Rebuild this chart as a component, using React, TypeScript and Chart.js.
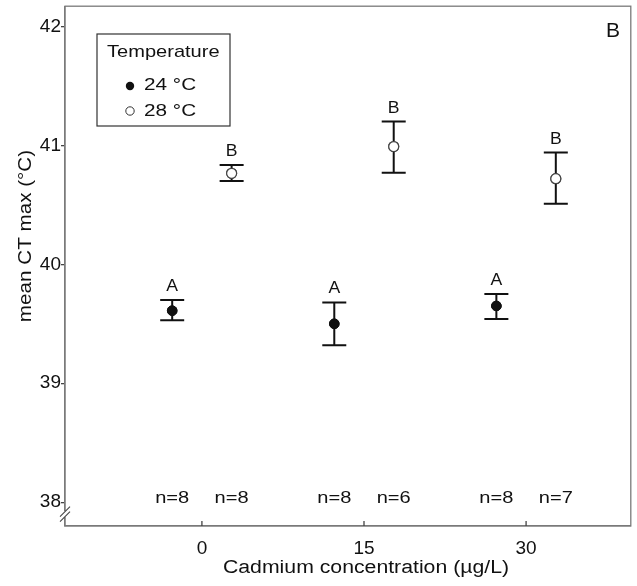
import React, { useEffect, useRef } from "react";
import { Chart, registerables } from "chart.js";

Chart.register(...registerables);

// ---- data ----
const concentrations = [0, 15, 30];
const seriesLabels = ["24 °C", "28 °C"];
const means24 = [39.61, 39.5, 39.65];
const upper24 = [39.7, 39.68, 39.75];
const lower24 = [39.53, 39.32, 39.54];
const means28 = [40.765, 40.99, 40.72];
const upper28 = [40.835, 41.2, 40.94];
const lower28 = [40.7, 40.77, 40.51];
const letters24 = ["A", "A", "A"];
const letters28 = ["B", "B", "B"];
const n24 = [8, 8, 8];
const n28 = [8, 6, 7];
const yTicks = [38, 39, 40, 41, 42];
const xTicks = [0, 15, 30];
const yMin = 37.8;
const yMax = 42.17;
const xMin = -12.67;
const xMax = 39.69;
const nLabelY = 38;
const dodge = 2.75;

const FONT = "'Liberation Sans', Arial, Helvetica, sans-serif";
const SX = 1.18;

function txt(
  ctx: CanvasRenderingContext2D,
  s: string,
  x: number,
  y: number,
  size: number,
  sx: number,
  align: CanvasTextAlign,
  baseline: CanvasTextBaseline,
  rot = 0
) {
  ctx.save();
  ctx.translate(x, y);
  if (rot) ctx.rotate(rot);
  ctx.scale(sx, 1);
  ctx.font = `${size}px ${FONT}`;
  ctx.textAlign = align;
  ctx.textBaseline = baseline;
  ctx.fillStyle = "#111";
  ctx.fillText(s, 0, 0);
  ctx.restore();
}

const overlay = {
  id: "overlay",
  afterDatasetsDraw(chart: any) {
    const ctx = chart.ctx;
    const { left, right, top, bottom } = chart.chartArea;
    const xs = chart.scales.x;
    const ys = chart.scales.y;
    ctx.save();
    // frame
    ctx.strokeStyle = "#7a7a7a";
    ctx.lineWidth = 1.3;
    ctx.strokeRect(left, top, right - left, bottom - top);
    // axis break
    const yb = ys.getPixelForValue(37.9);
    ctx.fillStyle = "#fff";
    ctx.fillRect(left - 2, yb - 3, 4, 6);
    ctx.strokeStyle = "#444";
    ctx.lineWidth = 1.1;
    for (const d of [-2.5, 2.5]) {
      ctx.beginPath();
      ctx.moveTo(left - 5, yb + d + 5);
      ctx.lineTo(left + 5, yb + d - 5);
      ctx.stroke();
    }
    // x ticks inside
    ctx.strokeStyle = "#444";
    ctx.lineWidth = 1.3;
    for (const t of xTicks) {
      const px = xs.getPixelForValue(t);
      ctx.beginPath();
      ctx.moveTo(px, bottom);
      ctx.lineTo(px, bottom - 5);
      ctx.stroke();
    }
    // error bars + letters + n
    const groups = [
      { off: -dodge, u: upper24, l: lower24, let: letters24, n: n24 },
      { off: dodge, u: upper28, l: lower28, let: letters28, n: n28 },
    ];
    for (const g of groups) {
      concentrations.forEach((c, i) => {
        const px = xs.getPixelForValue(c + g.off);
        const pu = ys.getPixelForValue(g.u[i]);
        const pl = ys.getPixelForValue(g.l[i]);
        ctx.strokeStyle = "#111";
        ctx.lineWidth = 2;
        ctx.beginPath();
        ctx.moveTo(px, pu);
        ctx.lineTo(px, pl);
        ctx.moveTo(px - 12, pu);
        ctx.lineTo(px + 12, pu);
        ctx.moveTo(px - 12, pl);
        ctx.lineTo(px + 12, pl);
        ctx.stroke();
        txt(ctx, g.let[i], px, pu - 9, 16, 1.1, "center", "alphabetic");
        txt(ctx, `n=${g.n[i]}`, px, ys.getPixelForValue(nLabelY) - 4, 17, SX, "center", "middle");
      });
    }
    // redraw points on top of bars
    chart.getSortedVisibleDatasetMetas().forEach((meta: any) => meta.controller.draw());
    // panel label
    txt(ctx, "B", 613, 31, 21, 1, "center", "middle");
    // legend
    ctx.fillStyle = "#fff";
    ctx.fillRect(97, 34, 133, 92);
    ctx.strokeStyle = "#333";
    ctx.lineWidth = 1.2;
    ctx.strokeRect(97, 34, 133, 92);
    txt(ctx, "Temperature", 107, 52, 17, SX, "left", "middle");
    txt(ctx, seriesLabels[0], 144, 85, 17, 1.22, "left", "middle");
    txt(ctx, seriesLabels[1], 144, 111, 17, 1.22, "left", "middle");
    ctx.fillStyle = "#111";
    ctx.beginPath();
    ctx.arc(130, 86, 4.2, 0, Math.PI * 2);
    ctx.fill();
    ctx.beginPath();
    ctx.arc(130, 111, 4.2, 0, Math.PI * 2);
    ctx.fillStyle = "#fff";
    ctx.fill();
    ctx.strokeStyle = "#333";
    ctx.lineWidth = 1;
    ctx.stroke();
    // axis titles
    txt(ctx, "Cadmium concentration (µg/L)", 366, 568, 18, SX, "center", "middle");
    txt(ctx, "mean CT max (°C)", 26, 236, 17.5, SX, "center", "middle", -Math.PI / 2);
    ctx.restore();
  },
};

export default function App() {
  const ref = useRef<HTMLCanvasElement>(null);
  useEffect(() => {
    document.body.style.margin = "0";
    const chart = new Chart(ref.current!, {
      type: "scatter",
      data: {
        datasets: [
          {
            label: seriesLabels[0],
            data: concentrations.map((c, i) => ({ x: c - dodge, y: means24[i] })),
            pointRadius: 4.8,
            pointBackgroundColor: "#111",
            pointBorderColor: "#111",
            pointBorderWidth: 1,
          },
          {
            label: seriesLabels[1],
            data: concentrations.map((c, i) => ({ x: c + dodge, y: means28[i] })),
            pointRadius: 5,
            pointBackgroundColor: "#fff",
            pointBorderColor: "#444",
            pointBorderWidth: 1.2,
          },
        ],
      },
      options: {
        animation: false,
        responsive: false,
        layout: { padding: { top: 5, right: 3, left: 0, bottom: 0 } },
        plugins: { legend: { display: false }, tooltip: { enabled: false } },
        scales: {
          x: {
            type: "linear",
            min: xMin,
            max: xMax,
            afterBuildTicks: (s: any) => {
              s.ticks = xTicks.map((v) => ({ value: v }));
            },
            afterFit: (s: any) => {
              s.height = 60;
              s.paddingLeft = 0;
              s.paddingRight = 0;
            },
            grid: { display: false, drawTicks: false },
            border: { display: true, color: "#7a7a7a", width: 1.3 },
            ticks: {
              color: "#111",
              font: { size: 19, family: FONT },
              padding: 11,
              maxRotation: 0,
            },
          },
          y: {
            type: "linear",
            min: yMin,
            max: yMax,
            afterBuildTicks: (s: any) => {
              s.ticks = yTicks.map((v) => ({ value: v }));
            },
            afterFit: (s: any) => {
              s.width = 65;
              s.paddingTop = 0;
              s.paddingBottom = 0;
            },
            grid: {
              drawOnChartArea: false,
              drawTicks: true,
              tickLength: 4,
              color: "#444",
              lineWidth: 1.3,
            },
            border: { display: true, color: "#7a7a7a", width: 1.3 },
            ticks: {
              color: "#111",
              font: { size: 19, family: FONT },
              padding: 0,
            },
          },
        },
      },
      plugins: [overlay],
    });
    return () => chart.destroy();
  }, []);
  return (
    <div style={{ position: "absolute", left: 0, top: 0, width: 637, height: 586 }}>
      <canvas ref={ref} width={637} height={586} style={{ width: 637, height: 586 }} />
    </div>
  );
}
